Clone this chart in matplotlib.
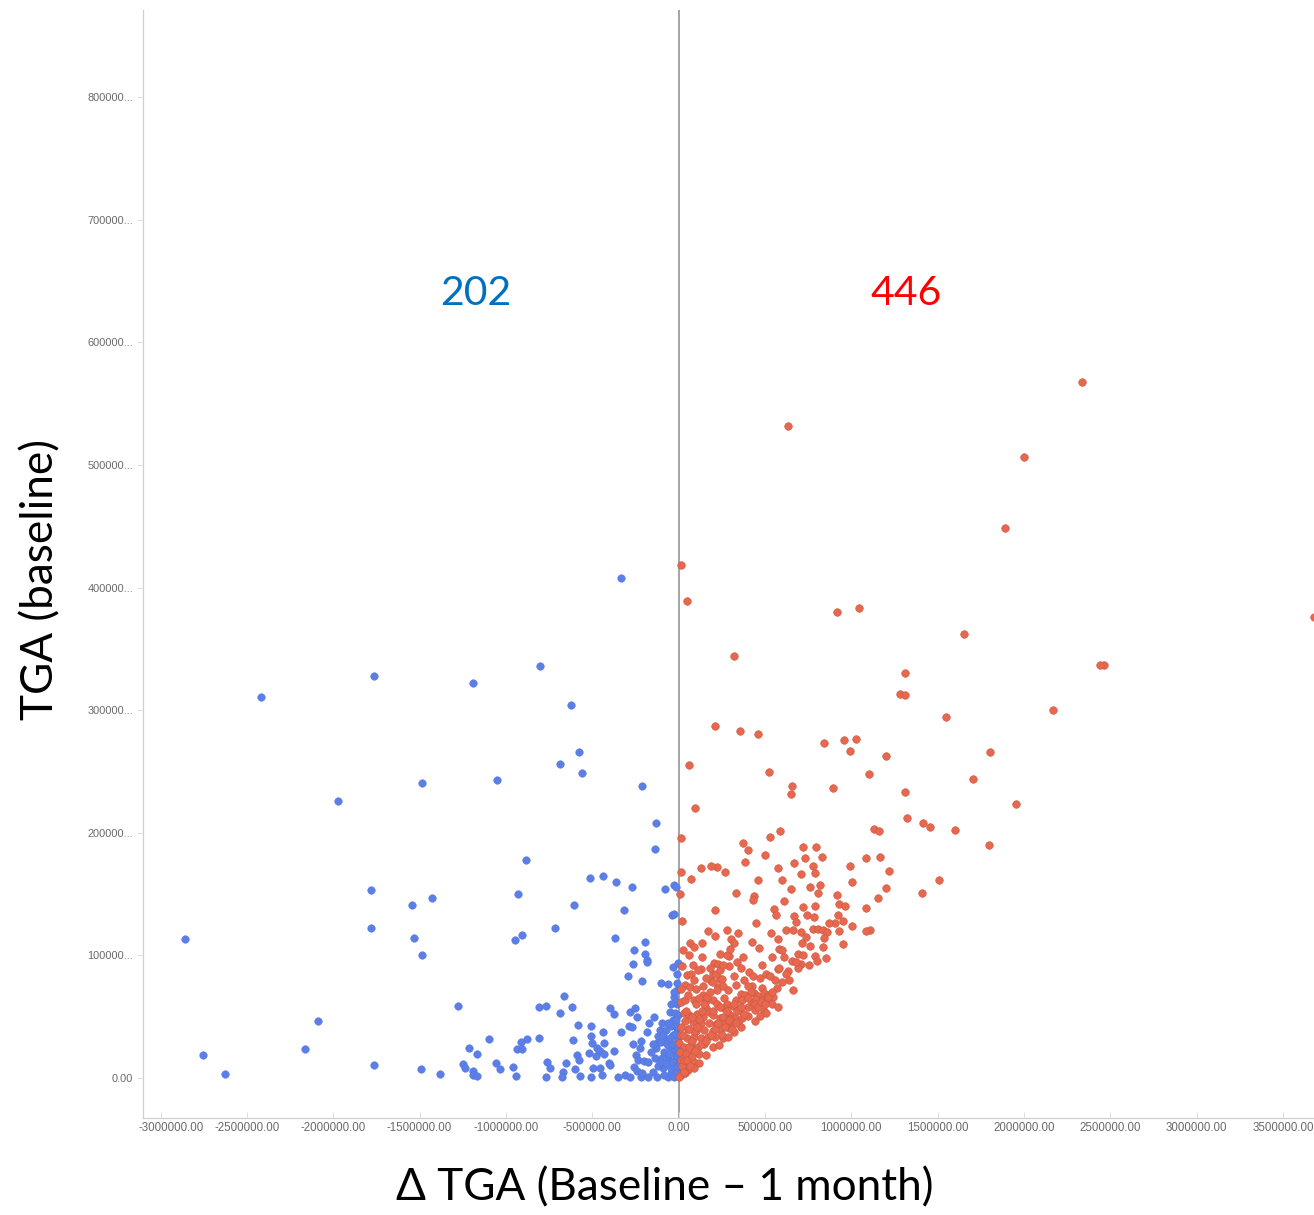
import matplotlib
matplotlib.use("Agg")
import matplotlib.pyplot as plt
import matplotlib.transforms as mtransforms

# ---------------- data (values in thousands) ----------------
SCALE = 1000.0

# decreased group: (delta TGA, baseline TGA)
blue_points = [
    (-2419, 310.8), (-1765, 327.9), (-1487, 240.6), (-1973, 226.0),
    (-1782, 153.4), (-1545, 141.1), (-1782, 122.4), (-1534, 114.2), (-1487, 100.3),
    (-2859, 113.4), (-2089, 46.5), (-2164, 23.7), (-2755, 18.8), (-2627, 3.3),
    (-1765, 10.6), (-1493, 7.3),
    (-335.6, 407.9), (-804.4, 336.1), (-1192, 322.2), (-625, 304.3), (-578.7, 265.9),
    (-688.7, 256.1), (-561.3, 248.8), (-1053, 243.1),
    (-214.1, 238.2), (-133.1, 208.0), (-138.9, 186.8), (-885.4, 177.8), (-515.0, 163.1),
    (-439.8, 164.8), (-364.6, 159.9), (-272.0, 155.8), (-81.0, 154.2), (-28.9, 157.4),
    (-17.4, 155.8), (-1429, 146.8), (-931.7, 150.1), (-607.6, 141.1), (-318.3, 137.0),
    (-40.5, 133.0), (-28.9, 133.8), (-949.1, 112.6), (-908.6, 116.6), (-717.6, 122.4),
    (-370.4, 114.2), (-260.4, 104.4), (-196.8, 110.9), (-196.8, 101.1), (-185.2, 96.3),
    (-266.2, 93.0), (-185.2, 94.6), (-34.7, 90.5), (-5.8, 93.8), (-295.1, 83.2),
    (-214.1, 79.1), (-104.2, 77.5), (-63.7, 76.7), (-11.6, 77.5), (-665.5, 66.9),
    (-1279, 58.7), (-810.2, 57.9), (-769.7, 58.7), (-688.7, 53.0), (-619.2, 57.9),
    (-399.3, 57.1), (-376.2, 52.2), (-283.6, 53.8), (-254.6, 57.1), (-243.1, 49.8),
    (-28.9, 66.1), (-52.1, 53.8), (-23.1, 53.0), (-98.4, 44.9), (-46.3, 42.4),
    (-584.5, 43.2), (-509.3, 42.4), (-289.4, 42.4), (-272.0, 41.6), (-335.6, 37.5),
    (-439.8, 37.5), (-185.2, 37.5), (-509.3, 34.3), (-110.0, 39.2), (-121.5, 34.3),
    (-1100, 31.8), (-879.6, 31.8), (-914.3, 29.4), (-810.2, 32.6), (-613.4, 31.0),
    (-503.5, 28.5), (-434.0, 28.5), (-474.5, 24.5), (-219.9, 30.2), (-266.2, 27.7),
    (-127.3, 28.5), (-1215, 24.5), (-1169, 19.6), (-937.5, 23.7), (-908.6, 23.7),
    (-520.8, 20.4), (-457.2, 22.0), (-480.3, 17.9), (-434.0, 19.6), (-376.2, 22.0),
    (-225.7, 24.5), (-133.1, 24.5), (-86.8, 21.2), (-40.5, 22.8), (-590.3, 18.8),
    (-578.7, 14.7), (-248.8, 18.8), (-237.3, 14.7), (-202.5, 13.9), (-179.4, 13.1),
    (-63.7, 16.3), (-23.1, 14.7), (-1383, 3.3), (-1250, 11.4), (-1238, 8.2),
    (-1192, 5.7), (-1192, 2.4), (-1169, 1.6), (-1059, 12.2), (-1036, 7.3),
    (-960.6, 9.0), (-943.3, 1.6), (-763.9, 13.1), (-746.5, 8.2), (-653.9, 12.2),
    (-671.3, 4.9), (-677.1, 0.8), (-601.8, 7.3), (-572.9, 1.6), (-509.3, 0.8),
    (-497.7, 8.2), (-457.2, 8.2), (-445.6, 2.4), (-405.1, 12.2), (-399.3, 10.6),
    (-353.0, 0.8), (-312.5, 2.4), (-283.6, 0.8), (-260.4, 9.0), (-243.1, 5.7),
    (-219.9, 0.8), (-214.1, 4.1), (-179.4, 0.8), (-150.5, 4.9), (-127.3, 0.8),
    (-92.6, 8.2), (-63.7, 0.8), (-46.3, 4.1), (-28.9, 0.8), (-769.7, 0.8),
    (-81.0, 31.0), (-57.9, 26.1), (-34.7, 35.1), (-17.4, 18.8), (-69.4, 11.4),
    (-46.3, 8.2), (-23.1, 27.7), (-11.6, 4.9), (-98.4, 16.3), (-121.5, 9.8),
    (-138.9, 16.3), (-162.0, 21.2), (-75.2, 39.2), (-34.7, 47.3), (-11.6, 40.8),
    (-11.6, 60.4), (-5.8, 51.4), (-57.9, 19.6), (-34.7, 13.1), (-5.8, 24.5),
    (-5.8, 32.6), (-86.8, 2.4), (-110.0, 13.1), (-5.8, 9.8), (-17.4, 47.3),
    (-104.2, 29.4), (-11.6, 71.8),
    (-15, 62), (-25, 70), (-8, 85), (-45, 60), (-60, 45), (-20, 36), (-70, 28),
    (-90, 35), (-150, 28), (-170, 45), (-140, 50), (-8, 18), (-30, 28), (-50, 33),
    (-8, 42),
]

# increased group: (delta TGA, baseline TGA)
red_points = [
    (2338, 567.7), (2002, 506.5), (1892, 448.6), (630.8, 531.8), (11.6, 418.5),
    (46.3, 389.1), (3681, 376.0), (920.1, 380.1), (1042, 383.4), (1655, 362.2),
    (1314, 330.4), (2465, 336.9), (2442, 336.9), (1285, 313.2), (1314, 312.4),
    (318.3, 344.2), (2170, 300.2), (1551, 294.5), (208.3, 287.1), (353.0, 283.0),
    (457.2, 280.6), (844.9, 273.3), (960.6, 275.7), (1030, 276.5), (995.4, 266.7),
    (1204, 262.7), (1806, 265.9), (57.9, 255.3), (520.8, 249.6), (1105, 248.0),
    (1707, 243.9), (653.9, 238.2), (648.1, 231.7), (897.0, 236.6), (1314, 233.3),
    (1956, 223.5), (92.6, 220.2), (1325, 212.1), (1418, 208.0), (1458, 204.7),
    (1603, 202.3), (1134, 203.1), (1163, 201.5), (584.5, 201.5), (526.6, 196.6),
    (11.6, 195.8), (1800, 190.1), (1510, 161.5), (1412, 150.9),
    (11.6, 168.0), (5.8, 150.1), (17.4, 128.1),
    (219.9, 172.1), (266.2, 168.0), (381.9, 176.2), (399.3, 186.0), (370.4, 191.7),
    (497.7, 181.9), (457.2, 161.5), (329.9, 150.9), (434.0, 148.5), (596.1, 161.5),
    (648.1, 154.2), (572.9, 171.3), (665.5, 175.4), (717.6, 188.4), (734.9, 179.5),
    (798.6, 188.4), (833.3, 180.3), (775.5, 172.9), (706.0, 166.4), (792.8, 167.2),
    (763.9, 155.8), (821.8, 157.4), (810.2, 150.9), (920.1, 149.3), (995.4, 172.9),
    (1088, 179.5), (1007, 159.9), (1169, 180.3), (1221, 168.9), (1204, 155.0),
    (1157, 146.8), (1088, 138.7), (1111, 120.7), (1088, 119.9), (127.3, 171.3),
    (185.2, 172.9), (69.4, 162.3),
    (208.3, 137.0), (428.2, 145.2), (607.6, 144.4), (549.8, 137.9), (561.3, 133.0),
    (665.5, 132.1), (717.6, 139.5), (746.5, 133.0), (787.0, 131.3), (792.8, 140.3),
    (931.7, 141.9), (966.4, 140.3), (925.9, 133.0), (908.6, 126.4), (873.8, 126.4),
    (954.9, 128.1), (445.6, 126.4), (677.1, 127.3), (277.8, 120.7), (167.8, 119.9),
    (341.4, 118.3), (532.4, 118.3), (619.2, 120.7), (659.7, 120.7), (706.0, 119.1),
    (781.2, 121.5), (810.2, 121.5), (839.1, 120.7), (862.3, 119.1), (931.7, 119.9),
    (1007, 124.0), (208.3, 115.8), (300.9, 113.4), (422.5, 110.9), (572.9, 113.4),
    (711.8, 110.1), (844.9, 114.2), (63.7, 110.1), (86.8, 106.9), (133.1, 110.1),
    (839.1, 106.9), (954.9, 109.3), (237.3, 101.1), (289.4, 99.5), (463.0, 106.0),
    (578.7, 105.2), (596.1, 104.4), (133.1, 98.7), (202.5, 93.8), (225.7, 93.0),
    (289.4, 91.4), (370.4, 98.7), (480.3, 92.2), (538.2, 98.7), (607.6, 98.7),
    (653.9, 95.4), (688.7, 101.1), (706.0, 93.0), (792.8, 99.5), (804.4, 95.4),
    (856.5, 97.9), (758.1, 92.2), (127.3, 88.9), (196.8, 84.8), (237.3, 80.8),
    (318.3, 83.2), (405.1, 86.5), (428.2, 83.2), (468.7, 81.6), (503.5, 84.8),
    (526.6, 83.2), (572.9, 88.9), (630.8, 87.3), (694.4, 89.7), (34.7, 75.9),
    (63.7, 74.2), (98.4, 72.6), (185.2, 79.1), (225.7, 74.2), (248.8, 80.8),
    (254.6, 75.0), (329.9, 75.9), (422.5, 75.0), (480.3, 73.4), (567.1, 73.4),
    (659.7, 71.8), (11.6, 72.6), (138.9, 67.7), (219.9, 71.8), (283.6, 71.8),
    (358.8, 68.5), (381.9, 67.7), (434.0, 69.3), (457.2, 66.9), (491.9, 69.3),
    (515.0, 67.7), (544.0, 66.1), (11.6, 62.0), (34.7, 63.6), (86.8, 63.6),
    (156.2, 62.8), (196.8, 63.6), (260.4, 65.3), (277.8, 60.4), (329.9, 63.6),
    (364.6, 63.6), (422.5, 62.0), (445.6, 64.4), (480.3, 63.6), (503.5, 62.0),
    (538.2, 60.4), (572.9, 57.9), (260.4, 57.1), (312.5, 58.7), (347.2, 55.5),
    (399.3, 57.9), (439.8, 55.5), (491.9, 54.7), (503.5, 53.0), (156.2, 57.1),
    (173.6, 53.8), (28.9, 53.0), (57.9, 51.4), (104.2, 52.2), (138.9, 49.8),
    (196.8, 51.4), (237.3, 48.9), (295.1, 51.4), (324.1, 48.9), (364.6, 48.9),
    (399.3, 50.6), (468.7, 50.6), (439.8, 46.5), (341.4, 45.7), (300.9, 44.0),
    (260.4, 44.9), (214.1, 44.0), (173.6, 44.9), (127.3, 44.9), (81.0, 45.7),
    (34.7, 46.5), (11.6, 41.6), (52.1, 40.0), (98.4, 38.3), (144.7, 39.2),
    (196.8, 38.3), (237.3, 39.2), (289.4, 40.8), (358.8, 41.6), (318.3, 37.5),
    (11.6, 35.1), (46.3, 32.6), (86.8, 33.4), (127.3, 32.6), (167.8, 33.4),
    (208.3, 33.4), (254.6, 32.6), (283.6, 33.4), (2.0, 28.5), (28.9, 25.3),
    (69.4, 26.9), (110.0, 25.3), (144.7, 27.7), (196.8, 25.3), (231.5, 26.9),
    (5.8, 21.2), (40.5, 18.8), (81.0, 20.4), (115.7, 19.6), (156.2, 18.8),
    (11.6, 14.7), (46.3, 12.2), (86.8, 13.1), (115.7, 12.2), (23.1, 8.2),
    (52.1, 6.5), (86.8, 8.2), (11.6, 2.4), (34.7, 4.1), (1.0, 0.5),
    (23.1, 104.4), (17.4, 91.4), (46.3, 84.0), (81.0, 92.2), (57.9, 100.3),
    (20, 10), (30, 15), (45, 20), (60, 25), (75, 30), (90, 38), (105, 42),
    (120, 48), (135, 55), (150, 60), (165, 66), (180, 70), (200, 78), (215, 85),
    (240, 88), (260, 92), (280, 100), (300, 105), (320, 110), (340, 95), (360, 90),
    (380, 80), (400, 75), (420, 70), (440, 60), (460, 58), (480, 62), (500, 60),
    (520, 66), (540, 70), (560, 80), (580, 90), (600, 78), (620, 85), (640, 80),
    (680, 95), (720, 100), (740, 115), (760, 108), (60, 40), (80, 50), (100, 60),
    (120, 65), (140, 75), (160, 82), (180, 90), (200, 55), (220, 60), (240, 58),
    (260, 50), (280, 55), (300, 48), (320, 60), (340, 55), (360, 58), (380, 52),
    (400, 65), (25, 35), (40, 55), (55, 68), (70, 85), (90, 80), (110, 88),
    (30, 5), (50, 15), (65, 10), (75, 18), (95, 22), (130, 28), (160, 30),
    (185, 35), (210, 40), (230, 45), (250, 35), (270, 42), (290, 47), (310, 40),
    (330, 45),
]

count_labels = ["202", "446"]

xtick_values = [-3000, -2500, -2000, -1500, -1000, -500, 0, 500, 1000, 1500, 2000, 2500, 3000, 3500]
xtick_labels = ["-3000000.00", "-2500000.00", "-2000000.00", "-1500000.00", "-1000000.00",
                "-500000.00", "0.00", "500000.00", "1000000.00", "1500000.00",
                "2000000.00", "2500000.00", "3000000.00", "3500000.00"]
ytick_values = [0, 100, 200, 300, 400, 500, 600, 700, 800]
ytick_labels = ["0.00", "100000...", "200000...", "300000...", "400000...",
                "500000...", "600000...", "700000...", "800000..."]

x_title = "\u0394 TGA (Baseline \u2013 1 month)"
y_title = "TGA (baseline)"

# ---------------- figure ----------------
W, H = 1314, 1215
fig = plt.figure(figsize=(W / 100, H / 100), dpi=100)
ax = fig.add_axes([143 / W, (H - 1118) / H, (W - 143) / W, (1118 - 10) / H])

ax.set_xlim(-3102 * SCALE, 3680 * SCALE)
ax.set_ylim(-32.6 * SCALE, 871.2 * SCALE)

for s in ("top", "right"):
    ax.spines[s].set_visible(False)
for s in ("left", "bottom"):
    ax.spines[s].set_color("#d0d0d0")
    ax.spines[s].set_linewidth(0.9)

ax.axvline(0, color="#8c8c8c", lw=1.1, zorder=1)

bx = [p[0] * SCALE for p in blue_points]
by = [p[1] * SCALE for p in blue_points]
rx = [p[0] * SCALE for p in red_points]
ry = [p[1] * SCALE for p in red_points]

ax.scatter(bx, by, s=30, color="#5b7fe6", edgecolors="#4f73dc", linewidths=0.3, zorder=2)
ax.scatter(rx, ry, s=30, color="#e8684f", edgecolors="#c95640", linewidths=0.4, zorder=3)

tick_font = ["Liberation Sans", "DejaVu Sans"]
ax.set_xticks([v * SCALE for v in xtick_values])
ax.set_xticklabels(xtick_labels, family=tick_font)
ax.set_yticks([v * SCALE for v in ytick_values])
ax.set_yticklabels(ytick_labels, family=tick_font)
ax.tick_params(axis="x", direction="in", length=4, color="#e0e0e0", labelsize=8.3,
               labelcolor="#6a6a6a", pad=3)
ax.tick_params(axis="y", direction="out", length=4, color="#e0e0e0", labelsize=7.9,
               labelcolor="#6a6a6a", pad=3)

# Google-chart style: first x label nudged inside
lbl0 = ax.get_xticklabels()[0]
lbl0.set_transform(lbl0.get_transform() + mtransforms.ScaledTranslation(11 / 100, 0, fig.dpi_scale_trans))

title_font = ["Lato", "DejaVu Sans"]
ax.text(-1175 * SCALE, 640 * SCALE, count_labels[0], color="#0070c0", fontsize=29.5,
        ha="center", va="center", family=title_font)
ax.text(1319 * SCALE, 640 * SCALE, count_labels[1], color="#ff0000", fontsize=29.5,
        ha="center", va="center", family=title_font)

fig.text(41 / W, 1 - 579 / H, y_title, rotation=90, ha="center", va="center",
         fontsize=31.8, family=title_font, color="black")
fig.text(665 / W, 1 - 1188 / H, x_title, ha="center", va="center",
         fontsize=31.8, family=title_font, color="black")

fig.savefig("out.png", dpi=100)
